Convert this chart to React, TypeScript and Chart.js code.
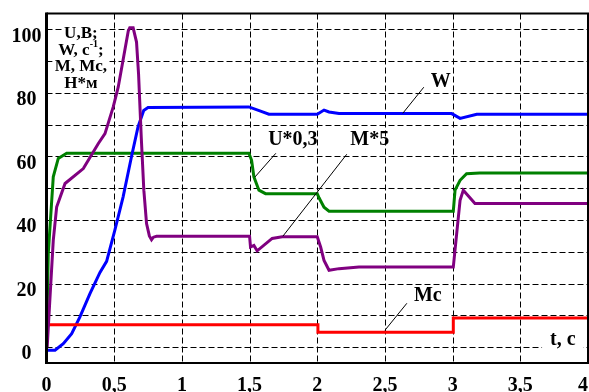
import React, { useEffect, useRef } from 'react';
import { Chart, registerables } from 'chart.js';

Chart.register(...registerables);

const FONT = '"Liberation Serif", "Times New Roman", "DejaVu Serif", serif';

// axes
const xTickValues = [0, 0.5, 1, 1.5, 2, 2.5, 3, 3.5, 4];
const yGridValues = [0, 10, 20, 30, 40, 50, 60, 70, 80, 90, 100];
const yLabelValues = [0, 20, 40, 60, 80, 100];

// W (blue)
const wTime = [0, 0.063, 0.124, 0.186, 0.247, 0.321, 0.395, 0.444, 0.505, 0.566, 0.628, 0.676, 0.718, 0.75, 1.495, 1.581, 1.643, 2.0, 2.05, 2.087, 2.161, 2.993, 3.055, 3.178, 4.0];
const wValue = [-1, -1, 1.1, 4.2, 9.5, 16.8, 23.5, 27, 36.8, 47.3, 60, 69.3, 74.5, 75.4, 75.6, 74.3, 73.3, 73.3, 74.6, 74, 73.5, 73.5, 72, 73.3, 73.3];

// U*0,3 (green)
const uTime = [0, 0.013, 0.05, 0.087, 0.149, 1.495, 1.515, 1.532, 1.569, 1.618, 2.0, 2.013, 2.05, 2.087, 3.005, 3.018, 3.055, 3.103, 3.2, 4.0];
const uValue = [0, 29.4, 53.6, 59.4, 61, 61, 58.8, 53.6, 49.4, 48.3, 48.3, 47, 44, 42.8, 42.8, 49.4, 52.5, 54.6, 54.8, 54.8];

// M*5 (purple)
const mTime = [0.005, 0.026, 0.05, 0.075, 0.137, 0.272, 0.383, 0.432, 0.493, 0.53, 0.604, 0.615, 0.64, 0.665, 0.68, 0.7, 0.719, 0.739, 0.76, 0.776, 0.79, 0.813, 1.5, 1.507, 1.532, 1.556, 1.667, 1.741, 2.0, 2.025, 2.05, 2.087, 2.161, 2.308, 3.005, 3.03, 3.055, 3.079, 3.165, 4.0];
const mValue = [0, 15.8, 33.6, 44.1, 51.5, 56.2, 64.1, 67.2, 75.6, 81.9, 99.5, 100.5, 100.5, 96, 86, 66, 49.4, 38.9, 35, 33.8, 34.6, 34.9, 34.9, 31.5, 32, 30.3, 34.2, 34.7, 34.7, 31.5, 27.3, 24.2, 24.7, 25.2, 25.2, 35.7, 46.2, 49.4, 45.2, 45.2];

// Mc (red)
const mcTime = [0.013, 2.005, 2.005, 3.005, 3.005, 4.0];
const mcValue = [7.05, 7.05, 4.7, 4.7, 9.2, 9.2];

// annotation texts (data coordinates: t, value)
const unitLines = ['U,B;', 'W, c', 'M, Mc,', 'H*м'];
const unitAnchor = [0.254, 98.7];
const seriesLabelText = ['W', 'U*0,3', 'M*5', 'Mc'];
const seriesLabelPos = [[2.913, 83.5], [1.82, 65.1], [2.388, 65.1], [2.817, 16]];
const leaderLines = [
  [2.787, 81.8, 2.632, 73.6],
  [1.694, 61, 1.539, 53.5],
  [2.218, 60.7, 1.746, 34.9],
  [2.662, 13.8, 2.5, 5.3],
];
const axisTitle = 't, c';
const axisTitlePos = [3.814, 2.4];

const pts = (ts: number[], vs: number[]) => ts.map((t, i) => ({ x: t, y: vs[i] }));

const gridPlugin = {
  id: 'dashGrid',
  beforeDatasetsDraw(chart: any) {
    const { ctx, chartArea: a, scales } = chart;
    ctx.save();
    ctx.strokeStyle = '#000';
    ctx.lineWidth = 1;
    ctx.setLineDash([6, 3]);
    scales.x.ticks.forEach((tk: any) => {
      const x = Math.round(scales.x.getPixelForValue(tk.value)) + 0.5;
      ctx.beginPath();
      ctx.moveTo(x, a.top);
      ctx.lineTo(x, a.bottom);
      ctx.stroke();
    });
    scales.y.ticks.forEach((tk: any) => {
      const y = Math.round(scales.y.getPixelForValue(tk.value)) + 0.5;
      ctx.beginPath();
      ctx.moveTo(a.left, y);
      ctx.lineTo(a.right, y);
      ctx.stroke();
    });
    ctx.restore();
  },
};

const decorPlugin = {
  id: 'decor',
  afterDatasetsDraw(chart: any) {
    const { ctx, chartArea: a, scales } = chart;
    const px = (t: number) => scales.x.getPixelForValue(t);
    const py = (v: number) => scales.y.getPixelForValue(v);
    ctx.save();
    ctx.textAlign = 'center';
    ctx.textBaseline = 'middle';
    ctx.fillStyle = '#000';

    // leader lines
    ctx.strokeStyle = '#000';
    ctx.lineWidth = 1;
    leaderLines.forEach((l) => {
      ctx.beginPath();
      ctx.moveTo(px(l[0]), py(l[1]));
      ctx.lineTo(px(l[2]), py(l[3]));
      ctx.stroke();
    });

    // series labels
    ctx.font = `bold 20px ${FONT}`;
    seriesLabelText.forEach((s, i) => {
      const x = px(seriesLabelPos[i][0]);
      const y = py(seriesLabelPos[i][1]);
      ctx.fillStyle = '#000';
      ctx.fillText(s, x, y);
    });

    // axis title with white box
    {
      const x = px(axisTitlePos[0]);
      const y = py(axisTitlePos[1]);
      const w = ctx.measureText(axisTitle).width;
      ctx.fillStyle = '#fff';
      ctx.fillRect(x - w / 2 - 8, y - 11, w + 16, 22);
      ctx.fillStyle = '#000';
      ctx.fillText(axisTitle, x, y);
    }

    // units block
    const cx = px(unitAnchor[0]);
    const y0 = py(unitAnchor[1]);
    const step = 16.7;
    const fMain = `bold 17px ${FONT}`;
    const fSup = `bold 10px ${FONT}`;
    unitLines.forEach((s, i) => {
      const y = y0 + i * step;
      ctx.font = fMain;
      if (i === 1) {
        const w1 = ctx.measureText(s).width;
        const w3 = ctx.measureText(';').width;
        ctx.font = fSup;
        const w2 = ctx.measureText('-1').width;
        const total = w1 + w2 + w3;
        const sx = cx - total / 2;
        ctx.fillStyle = '#fff';
        ctx.fillRect(sx - 2, y - 9, total + 4, 18);
        ctx.fillStyle = '#000';
        ctx.textAlign = 'left';
        ctx.font = fMain;
        ctx.fillText(s, sx, y);
        ctx.font = fSup;
        ctx.fillText('-1', sx + w1, y - 6);
        ctx.font = fMain;
        ctx.fillText(';', sx + w1 + w2, y);
        ctx.textAlign = 'center';
      } else {
        const w = ctx.measureText(s).width;
        ctx.fillStyle = '#fff';
        ctx.fillRect(cx - w / 2 - 2, y - 9, w + 4, 18);
        ctx.fillStyle = '#000';
        ctx.fillText(s, cx, y);
      }
    });

    // frame
    ctx.strokeStyle = '#000';
    ctx.lineWidth = 2;
    ctx.beginPath();
    ctx.moveTo(a.left, a.top);
    ctx.lineTo(a.right, a.top);
    ctx.lineTo(a.right, a.bottom);
    ctx.lineTo(a.left, a.bottom);
    ctx.stroke();
    ctx.lineWidth = 3;
    ctx.beginPath();
    ctx.moveTo(a.left, a.top - 1);
    ctx.lineTo(a.left, a.bottom + 1);
    ctx.stroke();
    ctx.restore();
  },
};

export default function App() {
  const ref = useRef<HTMLCanvasElement | null>(null);
  useEffect(() => {
    if (!ref.current) return;
    const lineDs = (data: any, color: string) => ({
      data,
      borderColor: color,
      backgroundColor: color,
      borderWidth: 3,
      pointRadius: 0,
      tension: 0,
      fill: false,
    });
    const chart = new Chart(ref.current, {
      type: 'line',
      data: {
        datasets: [
          lineDs(pts(mTime, mValue), '#800080'),
          lineDs(pts(mcTime, mcValue), '#ff0000'),
          lineDs(pts(wTime, wValue), '#0000ff'),
          lineDs(pts(uTime, uValue), '#008000'),
        ],
      },
      options: {
        animation: false,
        responsive: false,
        events: [],
        layout: { padding: { top: 13.5, right: 12, left: 0, bottom: 0 } },
        plugins: { legend: { display: false }, tooltip: { enabled: false } },
        scales: {
          x: {
            type: 'linear',
            min: 0,
            max: 4,
            afterBuildTicks: (s: any) => {
              s.ticks = xTickValues.map((v) => ({ value: v }));
            },
            afterFit: (s: any) => {
              s.height = 29;
              s.paddingLeft = 0;
              s.paddingRight = 0;
            },
            grid: { display: false, drawTicks: false },
            border: { display: false },
            ticks: {
              color: '#000',
              font: { family: FONT, size: 20, weight: 'bold' },
              padding: 11,
              maxRotation: 0,
              autoSkip: false,
              callback: (v: any) => {
                const s = String(v).replace('.', ',');
                return v === 4 ? s + '\u00a0\u00a0' : s;
              },
            },
          },
          y: {
            type: 'linear',
            min: -5,
            max: 105,
            afterBuildTicks: (s: any) => {
              s.ticks = yGridValues.map((v) => ({ value: v }));
            },
            afterFit: (s: any) => {
              s.width = 46.5;
              s.paddingTop = 0;
              s.paddingBottom = 0;
            },
            grid: { display: false, drawTicks: false },
            border: { display: false },
            ticks: {
              color: '#000',
              font: { family: FONT, size: 20, weight: 'bold' },
              padding: 5,
              crossAlign: 'center',
              labelOffset: 7,
              callback: (v: any) => (yLabelValues.includes(v) ? String(v) : ''),
            },
          },
        },
      },
      plugins: [gridPlugin, decorPlugin],
    } as any);
    return () => chart.destroy();
  }, []);
  return (
    <div style={{ position: 'fixed', left: 0, top: 0, width: 589, height: 392, overflow: 'hidden', background: '#fff' }}>
      <canvas ref={ref} width={600} height={392} style={{ display: 'block', width: 600, height: 392 }} />
    </div>
  );
}
